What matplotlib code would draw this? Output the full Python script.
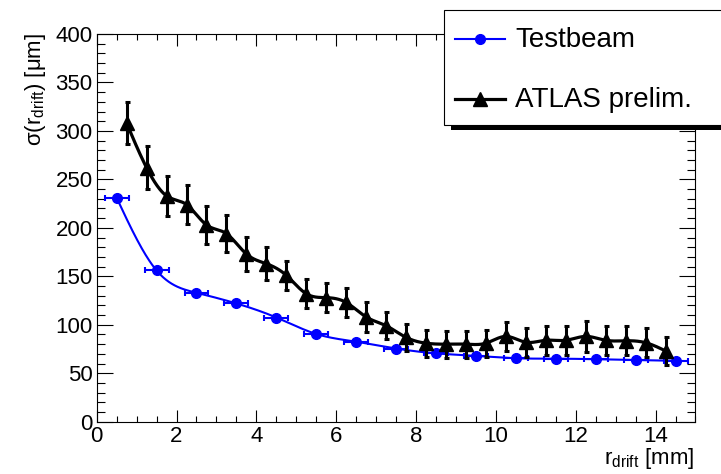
import numpy as np
import matplotlib
matplotlib.use("Agg")
import matplotlib.pyplot as plt
from matplotlib.patches import Rectangle
from matplotlib.ticker import MultipleLocator

plt.rcParams['font.family'] = ['Liberation Sans', 'DejaVu Sans']
plt.rcParams['mathtext.fontset'] = 'custom'
plt.rcParams['mathtext.rm'] = 'Liberation Sans'
plt.rcParams['mathtext.it'] = 'Liberation Sans'

# Testbeam measurement
tb_r = [0.5, 1.5, 2.5, 3.5, 4.5, 5.5, 6.5, 7.5, 8.5, 9.5, 10.5, 11.5, 12.5, 13.5, 14.5]
tb_sigma = [231, 156, 133, 122, 107.5, 90.5, 82.5, 75.5, 70.5, 68, 65.5, 65, 64.5, 63.5, 62.8]
tb_rerr = [0.3] * len(tb_r)

# ATLAS preliminary
at_r = [0.75, 1.25, 1.75, 2.25, 2.75, 3.25, 3.75, 4.25, 4.75, 5.25, 5.75, 6.25, 6.75, 7.25,
        7.75, 8.25, 8.75, 9.25, 9.75, 10.25, 10.75, 11.25, 11.75, 12.25, 12.75, 13.25, 13.75, 14.25]
at_sigma = [308, 262, 233, 224, 203, 194, 173, 163, 151, 132, 128, 123, 108, 99,
            87, 81, 80, 80, 81, 88, 82, 84, 84, 88, 84, 83.5, 81.5, 73]
at_err = [22, 22, 21, 20, 20, 19, 18, 17, 15, 15, 15, 15, 15, 14,
          14, 14, 14, 14, 14, 15, 15, 15, 15, 16, 15, 15, 15, 14]


def natural_spline(x, y, n=600):
    x = np.asarray(x, float)
    y = np.asarray(y, float)
    m = len(x)
    h = np.diff(x)
    A = np.zeros((m, m))
    b = np.zeros(m)
    A[0, 0] = A[-1, -1] = 1.0
    for i in range(1, m - 1):
        A[i, i - 1] = h[i - 1]
        A[i, i] = 2 * (h[i - 1] + h[i])
        A[i, i + 1] = h[i]
        b[i] = 6 * ((y[i + 1] - y[i]) / h[i] - (y[i] - y[i - 1]) / h[i - 1])
    M = np.linalg.solve(A, b)
    xs = np.linspace(x[0], x[-1], n)
    idx = np.clip(np.searchsorted(x, xs) - 1, 0, m - 2)
    x0, x1 = x[idx], x[idx + 1]
    hh = x1 - x0
    t0, t1 = x1 - xs, xs - x0
    ys = (M[idx] * t0 ** 3 + M[idx + 1] * t1 ** 3) / (6 * hh) \
        + (y[idx] / hh - M[idx] * hh / 6) * t0 + (y[idx + 1] / hh - M[idx + 1] * hh / 6) * t1
    return xs, ys


fig = plt.figure(figsize=(7.21, 4.74), dpi=100)
W, H = 721, 474
ax = fig.add_axes([96.7 / W, 1 - 421.7 / H, (695.5 - 96.7) / W, (421.7 - 34) / H])

ax.set_xlim(0, 15)
ax.set_ylim(0, 400)

# smooth curves through the points
xs, ys = natural_spline(tb_r, tb_sigma)
ax.plot(xs, ys, color='#0000ff', lw=1.5, zorder=3)
xs, ys = natural_spline(at_r, at_sigma)
ax.plot(xs, ys, color='black', lw=2.3, zorder=4)

# points with errors
ax.errorbar(tb_r, tb_sigma, xerr=tb_rerr, fmt='o', color='#0000ff', ms=7, elinewidth=1.5,
            capsize=2.2, capthick=1.5, zorder=5)
ax.errorbar(at_r, at_sigma, yerr=at_err, fmt='^', color='black', ms=10.5, elinewidth=2.2,
            capsize=1.8, capthick=2.2, zorder=6)

ax.xaxis.set_major_locator(MultipleLocator(2))
ax.xaxis.set_minor_locator(MultipleLocator(0.5))
ax.yaxis.set_major_locator(MultipleLocator(50))
ax.yaxis.set_minor_locator(MultipleLocator(10))
ax.tick_params(which='both', direction='in', top=True, right=True, width=0.8, labelsize=16)
ax.tick_params(axis='x', which='major', length=8.6, pad=3)
ax.tick_params(axis='x', which='minor', length=4.5)
ax.tick_params(axis='y', which='major', length=11.5, pad=3)
ax.tick_params(axis='y', which='minor', length=5.8)
for s in ax.spines.values():
    s.set_linewidth(0.8)

fig.text(694 / W, 1 - 464 / H, r'r$_{\mathrm{drift}}$ [mm]', ha='right', va='baseline', fontsize=16)
fig.text(36 / W, 1 - 33 / H, r'σ(r$_{\mathrm{drift}}$) [μm]', ha='center', va='top',
         rotation=90, fontsize=16)

# legend drawn in pixel coordinates
lax = fig.add_axes([0, 0, 1, 1], facecolor='none')
lax.set_xlim(0, W)
lax.set_ylim(H, 0)
lax.axis('off')
lax.add_patch(Rectangle((451, 120), 300, 9.5, facecolor='black', edgecolor='none', clip_on=False))
lax.add_patch(Rectangle((444, 10), 300, 115, facecolor='white', edgecolor='black', lw=0.8,
                        clip_on=False))
lax.plot([455, 505], [39, 39], color='#0000ff', lw=1.5)
lax.plot([480], [39], marker='o', color='#0000ff', ms=7)
lax.plot([455, 505], [99, 99], color='black', lw=2.3)
lax.plot([480], [99], marker='^', color='black', ms=10.5)
lax.text(515, 40, 'Testbeam', fontsize=20, va='center', ha='left')
lax.text(515, 100, 'ATLAS prelim.', fontsize=20, va='center', ha='left')

fig.savefig('out.png', dpi=100)
